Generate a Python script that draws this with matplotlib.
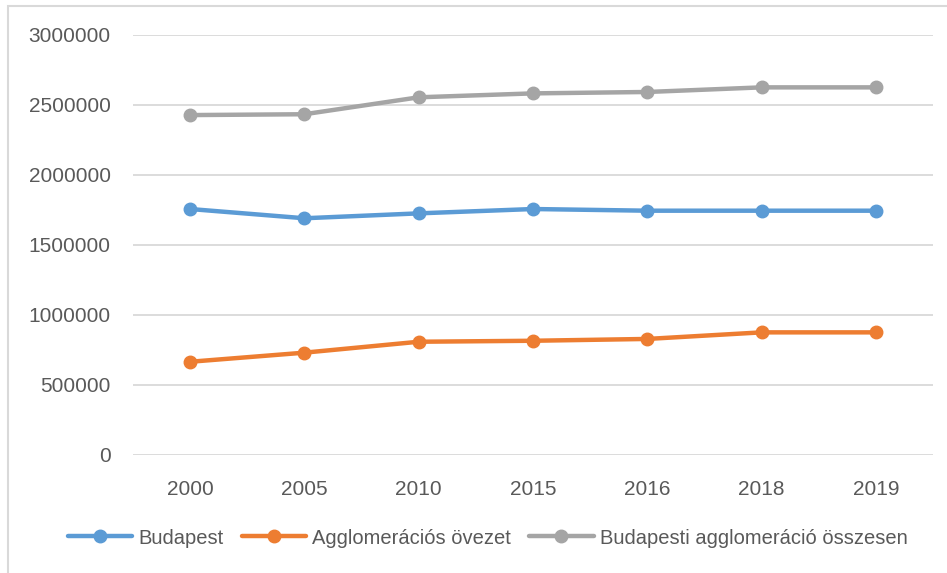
import matplotlib.pyplot as plt
from matplotlib.patches import Rectangle

# data
years = ["2000", "2005", "2010", "2015", "2016", "2018", "2019"]
budapest = [1757000, 1691000, 1726000, 1757000, 1745000, 1745000, 1745000]
agglo_zone = [666000, 731000, 809000, 816000, 829000, 876000, 876000]
agglo_total = [2428000, 2434000, 2555000, 2583000, 2593000, 2626000, 2626000]

series_names = ["Budapest", "Agglomerációs övezet", "Budapesti agglomeráció összesen"]
colors = ["#5B9BD5", "#ED7D31", "#A5A5A5"]
y_ticks = [0, 500000, 1000000, 1500000, 2000000, 2500000, 3000000]

plt.rcParams['font.family'] = ['Liberation Sans', 'DejaVu Sans']
text_color = "#595959"

fig = plt.figure(figsize=(9.47, 5.73), dpi=100)
ax = fig.add_axes([133 / 947, 1 - 455 / 573, 800 / 947, 420 / 573])

x = range(len(years))
for vals, name, c in zip([budapest, agglo_zone, agglo_total], series_names, colors):
    ax.plot(x, vals, color=c, lw=3.2, marker='o', ms=9, label=name,
            solid_capstyle='round', zorder=3)

ax.set_xlim(-0.5, len(years) - 0.5)
ax.set_ylim(0, 3000000)
ax.set_yticks(y_ticks)
ax.set_yticklabels([str(v) for v in y_ticks])
ax.set_xticks(list(x))
ax.set_xticklabels(years)
ax.grid(axis='y', color="#D9D9D9", lw=1.3)
ax.set_axisbelow(True)
for s in ax.spines.values():
    s.set_visible(False)
ax.tick_params(axis='both', length=0, labelsize=15, colors=text_color)
ax.tick_params(axis='y', pad=16)
ax.tick_params(axis='x', pad=18)

leg = fig.legend(loc='center', bbox_to_anchor=(0.515, 1 - 538 / 573), ncol=3,
                 frameon=False, fontsize=14.5, handlelength=3.2,
                 columnspacing=0.9, handletextpad=0.3)
for t in leg.get_texts():
    t.set_color(text_color)

# light chart border
fig.patches.append(Rectangle((8 / 947, -0.1), 1.2, 1 - 6 / 573 + 0.1,
                             transform=fig.transFigure, fill=False,
                             edgecolor="#D9D9D9", lw=1.5))

fig.savefig("out.png", dpi=100)
